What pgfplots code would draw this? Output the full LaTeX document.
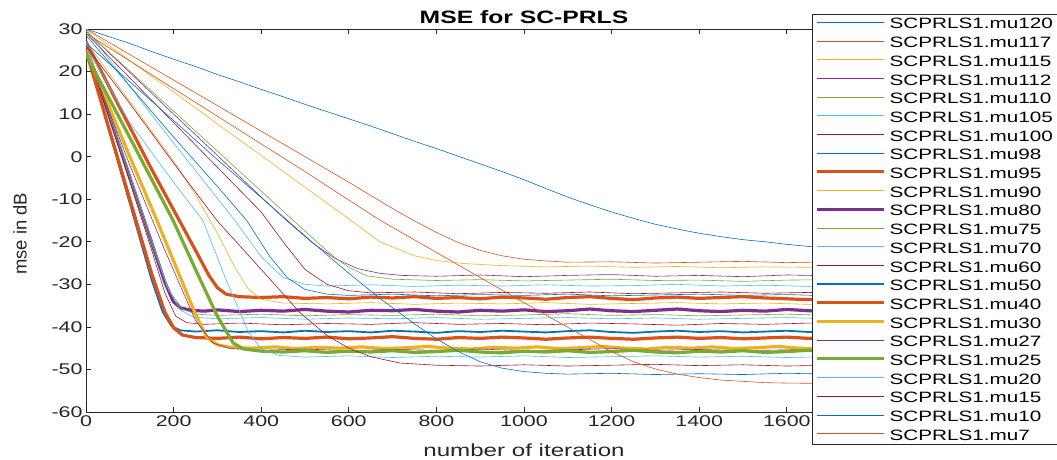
\documentclass[border=0pt]{standalone}
\usepackage{fontspec}
\setmainfont{Liberation Sans}[FakeStretch=1.38]
\newfontfamily\plainfont{Liberation Sans}
\usepackage{pgfplots}
\pgfplotsset{compat=1.18}
\definecolor{c1}{rgb}{0,0.447,0.741}
\definecolor{c2}{rgb}{0.85,0.325,0.098}
\definecolor{c3}{rgb}{0.929,0.694,0.125}
\definecolor{c4}{rgb}{0.494,0.184,0.556}
\definecolor{c5}{rgb}{0.466,0.674,0.188}
\definecolor{c6}{rgb}{0.301,0.745,0.933}
\definecolor{c7}{rgb}{0.635,0.078,0.184}
\definecolor{axgray}{rgb}{0.15,0.15,0.15}
\begin{document}
\begin{tikzpicture}
\begin{axis}[
  at={(86pt,47pt)}, anchor=south west,
  scale only axis, width=876pt, height=383pt,
  xmin=0, xmax=2000, ymin=-60, ymax=30,
  xtick={0,200,...,1600}, ytick={-60,-50,...,30},
  tick align=inside, tick pos=both, major tick length=5pt,
  axis line style={axgray, line width=0.7pt},
  tick style={axgray, line width=0.7pt},
  ticklabel style={font=\fontsize{15.5}{18}\selectfont, text=axgray},
  /pgf/number format/assume math mode=true,
  /pgf/number format/1000 sep={},
  scaled x ticks=false,
  title={MSE for SC-PRLS},
  title style={font=\bfseries\fontsize{17.9}{20}\selectfont, at={(axis description cs:0.5,1)}, anchor=base, yshift=0pt},
  xlabel={number of iteration},
  xlabel style={font=\fontsize{17.5}{20}\selectfont, text=axgray, at={(axis description cs:0.5,0)}, anchor=center, yshift=-38pt},
  ylabel={mse in dB},
  ylabel style={font=\plainfont\fontsize{18.4}{20}\selectfont, text=axgray, at={(axis description cs:-0.0753,0.465)}, anchor=center},
  legend style={at={(axis description cs:0.8288,1.0392)}, anchor=north west, draw=axgray, line width=0.6pt, fill=white,
    inner xsep=3pt, inner ysep=0pt, row sep=0pt, column sep=0pt,
    font=\fontsize{15}{18}\selectfont,
    nodes={inner xsep=4pt, inner ysep=0pt, text height=14.7pt, text depth=4pt}},
  legend cell align=left,
  legend image code/.code={\draw[#1] (0pt,1.4pt) -- (67pt,1.4pt);},
  every axis plot/.append style={line width=0.6pt, mark=none},
]
% mu120
\addplot[c1] coordinates {(0,30)(50,28.3)(100,26.6)(150,24.7)(200,22.9)(250,21.2)(300,19.3)(350,17.6)(400,15.8)(450,14.1)(500,12.3)(550,10.6)(600,8.9)(650,7.2)(700,5.4)(750,3.6)(800,1.9)(850,0.1)(900,-1.7)(950,-3.5)(1000,-5.4)(1050,-7.5)(1100,-9.5)(1150,-11.3)(1200,-13)(1250,-14.5)(1300,-15.9)(1350,-17)(1400,-18)(1450,-18.8)(1500,-19.5)(1550,-20)(1600,-20.6)(1650,-21.1)(1700,-21.4)(1800,-22)(1900,-22.4)(2000,-22.7)};
\addlegendentry{SCPRLS1.mu120}
% mu117
\addplot[c2] coordinates {(0,30)(100,24)(200,18)(300,12)(400,6)(500,0)(600,-6)(700,-12.2)(750,-15.1)(800,-17.8)(850,-20.2)(900,-22)(950,-23.3)(1000,-24.1)(1050,-24.5)(1100,-24.8)(1200,-24.7)(1300,-25)(1400,-24.8)(1500,-24.6)(1600,-24.9)(1700,-24.7)(1800,-25)(1900,-24.8)(2000,-24.9)};
\addlegendentry{SCPRLS1.mu117}
% mu115
\addplot[c3] coordinates {(0,30)(100,22.6)(200,15.2)(300,7.7)(400,0.3)(500,-7.2)(600,-14.6)(671,-20)(750,-23.3)(800,-24.4)(861,-25.1)(950,-25.6)(1050,-25.9)(1150,-25.7)(1250,-26)(1350,-25.8)(1450,-26.1)(1550,-25.9)(1650,-26)(1750,-25.8)(1850,-26.1)(2000,-25.9)};
\addlegendentry{SCPRLS1.mu115}
% mu112
\addplot[c4] coordinates {(0,29.5)(100,19.8)(200,10)(300,0.3)(400,-9.5)(460,-15.2)(520,-20.5)(570,-24)(620,-26.3)(670,-27.4)(720,-27.9)(800,-28.1)(900,-27.8)(1000,-28.2)(1100,-27.9)(1200,-27.7)(1300,-28.1)(1400,-27.9)(1500,-28.2)(1600,-27.8)(1700,-28)(1800,-28.2)(1900,-27.9)(2000,-28)};
\addlegendentry{SCPRLS1.mu112}
% mu110
\addplot[c5] coordinates {(0,29.5)(100,20.1)(200,10.7)(300,1.3)(400,-8.1)(500,-17.5)(564,-23.4)(600,-26)(641,-28)(700,-28.8)(800,-29.1)(900,-28.9)(1000,-29.2)(1100,-29)(1200,-28.8)(1300,-29.1)(1400,-29)(1500,-29.3)(1600,-29)(1700,-28.9)(1800,-29.2)(1900,-29)(2000,-29.1)};
\addlegendentry{SCPRLS1.mu110}
% mu105
\addplot[c6] coordinates {(0,30)(100,16.5)(200,3.2)(300,-9.8)(340,-15)(400,-23.5)(450,-28.4)(500,-30)(550,-30.4)(650,-30.1)(750,-30.5)(850,-30.2)(950,-30.4)(1050,-30.1)(1150,-30.4)(1250,-30.3)(1350,-30)(1450,-30.4)(1550,-30.2)(1650,-30.5)(1750,-30.2)(1850,-30.3)(2000,-30.4)};
\addlegendentry{SCPRLS1.mu105}
% mu100
\addplot[c7] coordinates {(0,29)(100,18.5)(200,8)(300,-2.5)(400,-13)(450,-20)(500,-26.5)(550,-30)(600,-31.5)(650,-32)(750,-31.8)(850,-32.2)(950,-31.9)(1050,-32.1)(1150,-31.8)(1250,-32.2)(1350,-32)(1450,-31.8)(1550,-32.1)(1650,-31.9)(1750,-32.2)(1850,-32)(2000,-31.9)};
\addlegendentry{SCPRLS1.mu100}
% mu98
\addplot[c1] coordinates {(0,28.5)(100,16.6)(200,4.6)(300,-7)(367,-15)(420,-23.5)(460,-28.5)(500,-31.2)(550,-32.3)(600,-32.6)(700,-32.3)(800,-32.7)(900,-32.4)(1000,-32.6)(1100,-32.3)(1200,-32.7)(1300,-32.5)(1400,-32.3)(1500,-32.6)(1600,-32.4)(1700,-32.7)(1800,-32.4)(1900,-32.6)(2000,-32.5)};
\addlegendentry{SCPRLS1.mu98}
% mu95
\addplot[c2, line width=3.2pt] coordinates {(0,27)(50,17)(100,7)(150,-3)(200,-12.5)(250,-22)(280,-27.8)(300,-30.8)(320,-32.3)(350,-32.9)(400,-33.1)(450,-32.9)(500,-33.3)(550,-33.1)(600,-33.4)(650,-33)(700,-33.2)(750,-32.9)(800,-33.3)(850,-33.1)(900,-33.4)(950,-33)(1000,-33.2)(1050,-33.5)(1100,-33.1)(1150,-32.9)(1200,-33.3)(1250,-33.6)(1300,-33.2)(1350,-33)(1400,-33.3)(1450,-33.1)(1500,-32.9)(1550,-33.2)(1600,-33.4)(1650,-33.6)(1700,-33.2)(1750,-33)(1800,-33.3)(1850,-33.1)(1900,-33.4)(1950,-33.2)(2000,-33.1)};
\addlegendentry{SCPRLS1.mu95}
% mu90
\addplot[c3] coordinates {(0,27)(100,13)(200,-1)(250,-9)(300,-18)(340,-26)(370,-31)(400,-33.5)(450,-34.4)(550,-34.6)(650,-34.3)(750,-34.7)(850,-34.4)(950,-34.6)(1050,-34.3)(1150,-34.7)(1250,-34.5)(1350,-34.3)(1450,-34.6)(1550,-34.4)(1650,-34.7)(1750,-34.5)(1850,-34.3)(2000,-34.5)};
\addlegendentry{SCPRLS1.mu90}
% mu80
\addplot[c4, line width=3.2pt] coordinates {(0,26)(50,10.6)(100,-4.8)(150,-20.2)(180,-29.5)(199,-34)(215,-35.5)(240,-36.1)(270,-36.3)(300,-36)(350,-36.4)(400,-36.1)(450,-36.3)(500,-35.9)(550,-36.3)(600,-36.5)(650,-36.1)(700,-36.2)(750,-35.9)(800,-36.3)(850,-36.5)(900,-36.1)(950,-36.3)(1000,-36)(1050,-36.4)(1100,-36.2)(1150,-35.8)(1200,-36.2)(1250,-36.4)(1300,-36.1)(1350,-35.8)(1400,-36.2)(1450,-36.4)(1500,-36.1)(1550,-36.3)(1600,-35.9)(1650,-36.2)(1700,-36.5)(1750,-36.2)(1800,-36)(1850,-36.3)(1900,-36.1)(1950,-36.4)(2000,-36.2)};
\addlegendentry{SCPRLS1.mu80}
% mu75
\addplot[c5] coordinates {(0,26)(100,-5)(150,-20.5)(190,-31.5)(220,-35.8)(250,-37)(300,-37.3)(400,-37)(500,-37.4)(600,-37.1)(700,-37.3)(800,-37)(900,-37.4)(1000,-37.2)(1100,-36.9)(1200,-37.3)(1300,-37.1)(1400,-37.4)(1500,-37.2)(1600,-37)(1700,-37.3)(1800,-37.1)(1900,-37.4)(2000,-37.2)};
\addlegendentry{SCPRLS1.mu75}
% mu70
\addplot[c6] coordinates {(0,27)(100,-4)(150,-19.5)(185,-30.5)(215,-36)(245,-37.7)(300,-38.1)(400,-37.8)(500,-38.2)(600,-37.9)(700,-38.1)(800,-37.8)(900,-38.2)(1000,-38)(1100,-37.8)(1200,-38.1)(1300,-37.9)(1400,-38.2)(1500,-38)(1600,-37.8)(1700,-38.1)(1800,-37.9)(1900,-38.2)(2000,-38)};
\addlegendentry{SCPRLS1.mu70}
% mu60
\addplot[c7] coordinates {(0,26)(100,-6)(150,-22)(180,-32)(205,-37.5)(230,-39)(270,-39.4)(350,-39.1)(450,-39.5)(550,-39.2)(650,-39.4)(750,-39)(850,-39.4)(950,-39.2)(1050,-39.5)(1150,-39.1)(1250,-39.3)(1350,-39.6)(1450,-39.2)(1550,-39.4)(1650,-39.1)(1750,-39.4)(1850,-39.2)(2000,-39.3)};
\addlegendentry{SCPRLS1.mu60}
% mu50
\addplot[c1, line width=1.8pt] coordinates {(0,25)(50,7)(100,-11)(150,-29)(175,-36.5)(195,-39.8)(215,-40.8)(250,-41.1)(300,-40.8)(350,-41.2)(400,-41)(450,-41.3)(500,-40.9)(550,-41.2)(600,-41)(650,-41.3)(700,-40.9)(750,-41.1)(800,-41.4)(850,-41)(900,-41.2)(950,-40.9)(1000,-41.1)(1050,-41.3)(1100,-41)(1150,-40.8)(1200,-41.2)(1250,-41.4)(1300,-41.1)(1350,-40.9)(1400,-41.2)(1450,-41)(1500,-41.3)(1550,-41.1)(1600,-40.9)(1650,-41.2)(1700,-41)(1750,-41.3)(1800,-41.1)(1850,-40.9)(1900,-41.2)(1950,-41)(2000,-41.1)};
\addlegendentry{SCPRLS1.mu50}
% mu40
\addplot[c2, line width=3.2pt] coordinates {(0,25)(50,7.5)(100,-10)(150,-27.5)(180,-36.5)(200,-40.2)(220,-41.9)(250,-42.5)(300,-42.7)(350,-42.4)(400,-42.8)(450,-42.5)(500,-42.7)(550,-42.4)(600,-42.8)(650,-42.6)(700,-42.3)(750,-42.7)(800,-42.9)(850,-42.5)(900,-42.7)(950,-42.4)(1000,-42.6)(1050,-42.9)(1100,-42.6)(1150,-42.4)(1200,-42.7)(1250,-42.9)(1300,-42.6)(1350,-42.4)(1400,-42.7)(1450,-42.5)(1500,-42.8)(1550,-42.6)(1600,-42.4)(1650,-42.7)(1700,-42.5)(1750,-42.8)(1800,-42.6)(1850,-42.4)(1900,-42.7)(1950,-42.5)(2000,-42.6)};
\addlegendentry{SCPRLS1.mu40}
% mu30
\addplot[c3, line width=3.2pt] coordinates {(0,25)(50,12.5)(100,0)(162,-15)(200,-24.5)(250,-37)(276,-42.5)(300,-44.2)(330,-44.8)(380,-45)(430,-44.7)(480,-45.1)(530,-44.8)(580,-45)(630,-44.7)(680,-45.1)(730,-44.9)(780,-44.6)(830,-45)(880,-45.2)(930,-44.8)(980,-45)(1030,-44.7)(1080,-45.1)(1130,-44.9)(1180,-44.6)(1230,-45)(1280,-45.2)(1330,-44.8)(1380,-45)(1430,-44.7)(1480,-45.1)(1530,-44.9)(1580,-44.6)(1630,-45)(1680,-45.2)(1730,-44.8)(1780,-45)(1830,-44.7)(1880,-45.1)(1930,-44.9)(2000,-45)};
\addlegendentry{SCPRLS1.mu30}
% mu27
\addplot[c4] coordinates {(0,25)(100,-2)(180,-22)(250,-38.5)(290,-43.8)(330,-45.1)(400,-45.5)(500,-45.2)(600,-45.6)(700,-45.3)(800,-45.5)(900,-45.2)(1000,-45.6)(1100,-45.4)(1200,-45.1)(1300,-45.5)(1400,-45.3)(1500,-45.6)(1600,-45.4)(1700,-45.2)(1800,-45.5)(1900,-45.3)(2000,-45.4)};
\addlegendentry{SCPRLS1.mu27}
% mu25
\addplot[c5, line width=3.2pt] coordinates {(0,24)(100,4.5)(199,-15)(250,-26.5)(300,-37.5)(336,-43.8)(360,-45.2)(400,-45.7)(450,-45.9)(500,-45.6)(550,-46)(600,-45.7)(650,-45.9)(700,-45.6)(750,-46)(800,-45.8)(850,-45.5)(900,-45.9)(950,-46.1)(1000,-45.7)(1050,-45.9)(1100,-45.6)(1150,-46)(1200,-45.8)(1250,-45.5)(1300,-45.9)(1350,-46.1)(1400,-45.7)(1450,-45.9)(1500,-45.6)(1550,-46)(1600,-45.8)(1650,-45.5)(1700,-45.9)(1750,-46.1)(1800,-45.7)(1850,-45.9)(1900,-45.6)(1950,-46)(2000,-45.8)};
\addlegendentry{SCPRLS1.mu25}
% mu20
\addplot[c6] coordinates {(0,26)(100,8)(200,-6)(267,-15)(320,-29)(370,-41)(400,-45.2)(440,-46.7)(500,-47.1)(600,-46.8)(700,-47.2)(800,-46.9)(900,-47.1)(1000,-46.8)(1100,-47.2)(1200,-47)(1300,-46.8)(1400,-47.1)(1500,-46.9)(1600,-47.2)(1700,-47)(1800,-46.8)(1900,-47.1)(2000,-47)};
\addlegendentry{SCPRLS1.mu20}
% mu15
\addplot[c7] coordinates {(0,26)(100,12.5)(200,-1.5)(299,-15)(400,-26.5)(489,-36.7)(550,-42)(600,-45)(650,-47)(717,-48.5)(800,-49)(900,-49.2)(1000,-48.9)(1100,-49.2)(1200,-49)(1300,-48.8)(1400,-49.1)(1500,-48.9)(1600,-49.2)(1700,-49)(1800,-48.8)(1900,-49.1)(2000,-49)};
\addlegendentry{SCPRLS1.mu15}
% mu10
\addplot[c1] coordinates {(0,26.7)(100,17.6)(200,8.5)(300,-0.7)(400,-9.6)(511,-19.6)(600,-27.4)(671,-33.3)(750,-39.3)(800,-42.8)(850,-45.8)(900,-48.2)(950,-49.7)(1000,-50.5)(1050,-50.9)(1100,-51.1)(1200,-50.9)(1300,-51.2)(1400,-51)(1500,-51.2)(1600,-50.9)(1700,-51.1)(1800,-51.2)(1900,-50.9)(2000,-51.1)};
\addlegendentry{SCPRLS1.mu10}
% mu7
\addplot[c2] coordinates {(0,29)(100,22.5)(200,16)(300,9.5)(400,3)(500,-3.5)(600,-10.2)(671,-14.9)(800,-22.5)(900,-28.4)(1000,-34.3)(1100,-40.1)(1196,-45.6)(1250,-48.2)(1300,-49.9)(1350,-51.1)(1400,-51.9)(1450,-52.5)(1500,-52.8)(1550,-53.1)(1600,-53.2)(1700,-53.3)(1800,-53.4)(1900,-53.3)(2000,-53.4)};
\addlegendentry{SCPRLS1.mu7}
\end{axis}
\pgfresetboundingbox
\useasboundingbox (0pt,0pt) rectangle (1057pt,459pt);
\end{tikzpicture}
\end{document}
